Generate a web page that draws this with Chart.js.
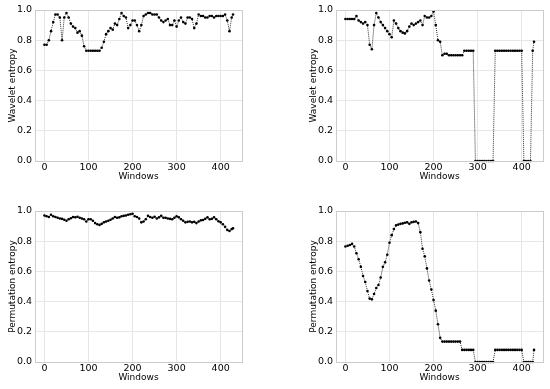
<!DOCTYPE html>
<html>
<head>
<meta charset="utf-8">
<script src="https://cdn.jsdelivr.net/npm/chart.js@4.4.0/dist/chart.umd.min.js"></script>
<style>
  body { margin: 0; background: #fff; }
  #wrap { position: relative; width: 550px; height: 389px; }
  canvas { position: absolute; }
</style>
</head>
<body>
<div id="wrap">
  <canvas id="c1" width="275" height="195" style="left:0;top:0"></canvas>
  <canvas id="c2" width="275" height="195" style="left:275px;top:0"></canvas>
  <canvas id="c3" width="275" height="194" style="left:0;top:195px"></canvas>
  <canvas id="c4" width="275" height="194" style="left:275px;top:195px"></canvas>
</div>
<script>
// window index (sampled every 5 windows, plus the last one)
const windows = [
    0, 5, 10, 15, 20, 25, 30, 35, 40, 45,
    50, 55, 60, 65, 70, 75, 80, 85, 90, 95,
    100, 105, 110, 115, 120, 125, 130, 135, 140, 145,
    150, 155, 160, 165, 170, 175, 180, 185, 190, 195,
    200, 205, 210, 215, 220, 225, 230, 235, 240, 245,
    250, 255, 260, 265, 270, 275, 280, 285, 290, 295,
    300, 305, 310, 315, 320, 325, 330, 335, 340, 345,
    350, 355, 360, 365, 370, 375, 380, 385, 390, 395,
    400, 405, 410, 415, 420, 425, 428
];

// top left
const waveletA = [
    .77, .77, .80, .86, .92, .97, .97, .95, .80, .95,
    .98, .95, .91, .89, .88, .85, .86, .83, .76, .73,
    .73, .73, .73, .73, .73, .73, .75, .79, .84, .86,
    .88, .87, .91, .90, .94, .98, .96, .95, .88, .90,
    .93, .93, .90, .86, .90, .96, .97, .98, .98, .97,
    .97, .97, .95, .93, .92, .93, .94, .90, .90, .93,
    .89, .93, .95, .92, .91, .95, .95, .94, .88, .91,
    .97, .96, .96, .95, .95, .96, .96, .95, .96, .96,
    .96, .96, .97, .93, .86, .95, .97
];

// top right
const waveletB = [
    .94, .94, .94, .94, .94, .96, .93, .92, .91, .92,
    .90, .77, .74, .90, .98, .95, .92, .90, .88, .86,
    .84, .82, .93, .91, .88, .86, .85, .845, .86, .89,
    .91, .90, .91, .92, .93, .90, .96, .95, .95, .96,
    .99, .90, .80, .79, .70, .71, .71, .70, .70, .70,
    .70, .70, .70, .70, .73, .73, .73, .73, .73, 0,
    0, 0, 0, 0, 0, 0, 0, 0, .73, .73,
    .73, .73, .73, .73, .73, .73, .73, .73, .73, .73,
    .73, 0, 0, 0, 0, .73, .79
];

// bottom left
const permA = [
    .970, .965, .960, .975, .965, .960, .955, .950, .948, .942,
    .935, .945, .952, .960, .958, .962, .955, .950, .945, .930,
    .945, .945, .935, .920, .912, .908, .915, .925, .930, .935,
    .942, .950, .960, .955, .958, .965, .968, .970, .975, .978,
    .982, .965, .960, .950, .925, .930, .945, .968, .960, .955,
    .962, .950, .958, .968, .955, .955, .950, .948, .945, .955,
    .965, .958, .945, .935, .925, .928, .930, .925, .928, .920,
    .930, .938, .940, .948, .958, .945, .948, .958, .945, .932,
    .925, .912, .895, .875, .868, .880, .885
];

// bottom right
const permB = [
    .765, .770, .775, .782, .765, .72, .68, .63, .57, .53,
    .47, .42, .415, .45, .49, .51, .56, .63, .66, .71,
    .79, .84, .88, .905, .91, .915, .918, .922, .925, .915,
    .925, .928, .93, .92, .86, .75, .70, .62, .54, .48,
    .41, .34, .25, .16, .135, .135, .135, .135, .135, .135,
    .135, .135, .135, .08, .08, .08, .08, .08, .08, 0,
    0, 0, 0, 0, 0, 0, 0, 0, .08, .08,
    .08, .08, .08, .08, .08, .08, .08, .08, .08, .08,
    .08, 0, 0, 0, 0, 0, .08
];

const xTicks = [0, 100, 200, 300, 400];
const yTicks = [0, 0.2, 0.4, 0.6, 0.8, 1.0];

// frame around the plot area (matplotlib spines)
const framePlugin = {
    id: "frame",
    afterDatasetsDraw(chart) {
        const a = chart.chartArea;
        const ctx = chart.ctx;
        ctx.save();
        ctx.strokeStyle = "#cccccc";
        ctx.lineWidth = 1;
        ctx.strokeRect(Math.round(a.left) + 0.5, Math.round(a.top) + 0.5,
            Math.round(a.right - a.left), Math.round(a.bottom - a.top));
        ctx.restore();
    }
};

function makeChart(id, values, yTitle, pad) {
    const pts = values.map((v, i) => ({ x: windows[i], y: v }));
    return new Chart(document.getElementById(id), {
        type: "scatter",
        data: {
            datasets: [{
                data: pts,
                showLine: true,
                borderColor: "#000",
                borderWidth: 0.8,
                borderDash: [1, 1],
                pointRadius: 1.3,
                pointBorderWidth: 0,
                pointBackgroundColor: "#000",
                clip: 4,
            }],
        },
        plugins: [framePlugin],
        options: {
            responsive: false,
            animation: false,
            devicePixelRatio: 1,
            layout: { padding: pad },
            plugins: { legend: { display: false }, tooltip: { enabled: false } },
            scales: {
                x: {
                    type: "linear",
                    min: -21.4,
                    max: 448.4,
                    afterBuildTicks: (s) => { s.ticks = xTicks.map((v) => ({ value: v })); },
                    afterFit: (s) => { s.height = 21.5; },
                    grid: { color: "#e6e6e6", drawTicks: false },
                    border: { display: false },
                    ticks: { color: "#000", padding: 1, maxRotation: 0, font: { family: "DejaVu Sans", size: 9.5 } },
                    title: { display: true, text: "Windows", color: "#000", padding: 0, font: { family: "DejaVu Sans", size: 9 } },
                },
                y: {
                    min: 0,
                    max: 1,
                    afterBuildTicks: (s) => { s.ticks = yTicks.map((v) => ({ value: v })); },
                    afterFit: (s) => { s.width = 28; },
                    grid: { color: "#e6e6e6", drawTicks: false },
                    border: { display: false },
                    ticks: {
                        color: "#000",
                        padding: 3,
                        font: { family: "DejaVu Sans", size: 9.5 },
                        callback: (v) => Number(v).toFixed(1),
                    },
                    title: { display: true, text: yTitle, color: "#000", padding: 0, font: { family: "DejaVu Sans", size: 9 } },
                },
            },
        },
    });
}

makeChart("c1", waveletA, "Wavelet entropy", { left: 7, top: 10, right: 33, bottom: 12.5 });
makeChart("c2", waveletB, "Wavelet entropy", { left: 33, top: 10, right: 7, bottom: 12.5 });
makeChart("c3", permA, "Permutation entropy", { left: 7, top: 16, right: 33, bottom: 5.5 });
makeChart("c4", permB, "Permutation entropy", { left: 33, top: 16, right: 7, bottom: 5.5 });
</script>
</body>
</html>
